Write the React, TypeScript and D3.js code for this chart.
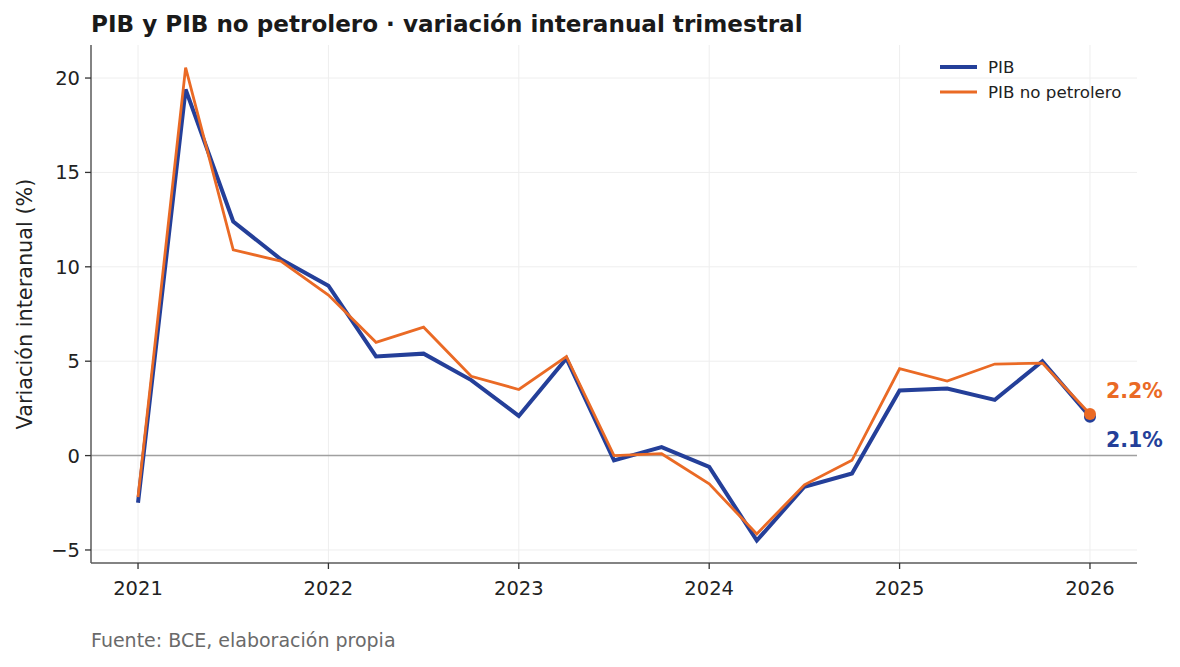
import * as d3 from 'd3'

const quarters = [
  2021.0, 2021.25, 2021.5, 2021.75,
  2022.0, 2022.25, 2022.5, 2022.75,
  2023.0, 2023.25, 2023.5, 2023.75,
  2024.0, 2024.25, 2024.5, 2024.75,
  2025.0, 2025.25, 2025.5, 2025.75,
  2026.0,
]
const pib = [
  -2.5, 19.4, 12.4, 10.4,
  9.0, 5.25, 5.4, 4.0,
  2.1, 5.15, -0.25, 0.45,
  -0.6, -4.5, -1.65, -0.95,
  3.45, 3.55, 2.95, 5.0,
  2.06,
]
const pibNoPetrolero = [
  -2.2, 20.55, 10.9, 10.3,
  8.5, 6.0, 6.8, 4.2,
  3.5, 5.25, 0.0, 0.1,
  -1.5, -4.15, -1.55, -0.25,
  4.6, 3.95, 4.85, 4.9,
  2.2,
]
const xTicks = [2021, 2022, 2023, 2024, 2025, 2026]
const yTicks = [-5, 0, 5, 10, 15, 20]

const BLUE = '#243f99'
const ORANGE = '#ea6a25'
const FONT = '"DejaVu Sans", sans-serif'

export default function App() {
  const width = 1180
  const height = 667
  const m = { left: 91, right: 1137, top: 45, bottom: 563 }

  const x = d3.scaleLinear().domain([2020.753, 2026.247]).range([m.left, m.right])
  const y = d3.scaleLinear().domain([-5.69, 21.75]).range([m.bottom, m.top])

  const line = d3.line<number>()
    .x((_, i) => x(quarters[i]))
    .y(v => y(v))

  const last = quarters.length - 1
  const fmt = (v: number) => v.toFixed(1) + '%'

  return (
    <svg width={width} height={height} style={{ position: 'absolute', left: 0, top: 0, background: '#fff' }} fontFamily={FONT}>
      <text x={91} y={32} fontSize={23.1} fontWeight="bold" fill="#1a1a1a">
        PIB y PIB no petrolero · variación interanual trimestral
      </text>

      {/* grid */}
      {xTicks.map(t => (
        <line key={'gx' + t} x1={x(t)} x2={x(t)} y1={m.top} y2={m.bottom} stroke="#eeeeee" strokeWidth={1} />
      ))}
      {yTicks.map(t => (
        <line key={'gy' + t} x1={m.left} x2={m.right} y1={y(t)} y2={y(t)} stroke="#eeeeee" strokeWidth={1} />
      ))}
      <line x1={m.left} x2={m.right} y1={y(0)} y2={y(0)} stroke="#a0a0a0" strokeWidth={1.5} />

      {/* series */}
      <path d={line(pib) ?? ''} fill="none" stroke={BLUE} strokeWidth={4} strokeLinejoin="miter" />
      <path d={line(pibNoPetrolero) ?? ''} fill="none" stroke={ORANGE} strokeWidth={2.8} strokeLinejoin="miter" />
      <circle cx={x(quarters[last])} cy={y(pib[last])} r={6} fill={BLUE} />
      <circle cx={x(quarters[last])} cy={y(pibNoPetrolero[last])} r={6} fill={ORANGE} />
      <text x={1106} y={y(pibNoPetrolero[last]) - 16} fontSize={20.5} fontWeight="bold" fill={ORANGE}>
        {fmt(pibNoPetrolero[last])}
      </text>
      <text x={1106} y={y(pib[last]) + 30} fontSize={20.5} fontWeight="bold" fill={BLUE}>
        {fmt(pib[last])}
      </text>

      {/* axes */}
      <line x1={m.left} x2={m.left} y1={m.top} y2={m.bottom} stroke="#5a5a5a" strokeWidth={1.5} />
      <line x1={m.left} x2={m.right} y1={m.bottom} y2={m.bottom} stroke="#5a5a5a" strokeWidth={1.5} />
      {yTicks.map(t => (
        <g key={'ty' + t}>
          <line x1={m.left - 6} x2={m.left} y1={y(t)} y2={y(t)} stroke="#333" strokeWidth={1.3} />
          <text x={m.left - 11} y={y(t)} dy="0.36em" textAnchor="end" fontSize={19.5} fill="#222">
            {t < 0 ? '\u2212' + Math.abs(t) : t}
          </text>
        </g>
      ))}
      {xTicks.map(t => (
        <g key={'tx' + t}>
          <line x1={x(t)} x2={x(t)} y1={m.bottom} y2={m.bottom + 6} stroke="#333" strokeWidth={1.3} />
          <text x={x(t)} y={m.bottom + 32} textAnchor="middle" fontSize={19.5} fill="#222">
            {t}
          </text>
        </g>
      ))}
      <text transform={`translate(32,${(m.top + m.bottom) / 2}) rotate(-90)`} textAnchor="middle" fontSize={20.8} fill="#222">
        Variación interanual (%)
      </text>

      {/* legend */}
      <line x1={940} x2={977} y1={67} y2={67} stroke={BLUE} strokeWidth={4} />
      <text x={988} y={73} fontSize={16.7} fill="#222">PIB</text>
      <line x1={940} x2={977} y1={92} y2={92} stroke={ORANGE} strokeWidth={2.8} />
      <text x={988} y={98} fontSize={16.7} fill="#222">PIB no petrolero</text>

      <text x={91} y={647} fontSize={19} fill="#6a6a6a">Fuente: BCE, elaboración propia</text>
    </svg>
  )
}
